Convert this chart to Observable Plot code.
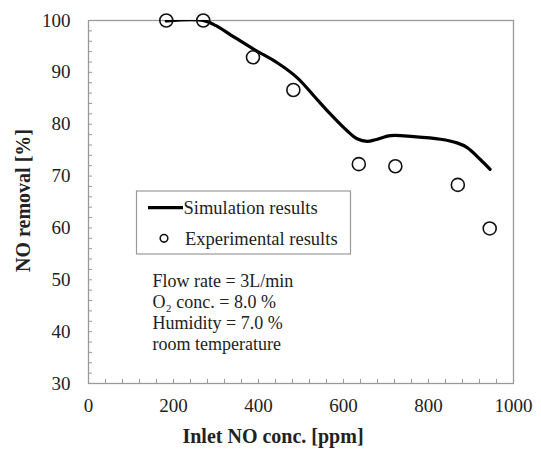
<!DOCTYPE html>
<html>
<head>
<meta charset="utf-8">
<script src="https://cdn.jsdelivr.net/npm/d3@7"></script>
<script src="https://cdn.jsdelivr.net/npm/@observablehq/plot@0.6"></script>
<style>
  html, body { margin: 0; padding: 0; background: #fff; }
  #chart svg { display: block; }
</style>
</head>
<body>
<div id="chart"></div>
<script>
// Experimental results (circles)
const expX = [183, 270, 387, 482, 636, 722, 869, 944];
const expY = [100, 100, 92.9, 86.6, 72.3, 71.9, 68.3, 59.9];

// Simulation results (line)
const simX = [183, 270, 300, 335, 390, 445, 492, 531, 570, 609, 632, 656, 675, 711, 765, 828, 867, 891, 922, 945];
const simY = [99.9, 100, 99.0, 97.2, 94.4, 91.8, 88.9, 85.4, 81.9, 78.7, 77.2, 76.7, 77.0, 77.8, 77.6, 77.1, 76.4, 75.5, 73.2, 71.3];

const xTickLabels = [0, 200, 400, 600, 800, 1000];
const yTickLabels = [30, 40, 50, 60, 70, 80, 90, 100];
const xMinorTicks = d3.range(0, 1001, 40);
const yMinorTicks = d3.range(30, 101, 2);

const seriesNames = ["Simulation results", "Experimental results"];
const xTitle = "Inlet NO conc. [ppm]";
const yTitle = "NO removal [%]";
const conditions = [
  "Flow rate = 3L/min",
  "O\u2082 conc. = 8.0 %",
  "Humidity = 7.0 %",
  "room temperature"
];

const sim = simX.map((x, i) => ({x, y: simY[i]}));
const exp = expX.map((x, i) => ({x, y: expY[i]}));

const FONT = "'Liberation Serif', 'Times New Roman', serif";
const GRAY = "#9a9a9a";
const TXT = "#222";

const chart = Plot.plot({
  width: 541,
  height: 449,
  marginLeft: 88,
  marginRight: 28,
  marginTop: 20,
  marginBottom: 66,
  style: {fontFamily: FONT, background: "#fff", color: TXT, overflow: "visible"},
  x: {domain: [0, 1000], label: null, axis: null},
  y: {domain: [30, 100], label: null, axis: null},
  marks: [
    Plot.frame({stroke: GRAY, strokeWidth: 1.3}),
    // inward minor ticks
    Plot.axisX({ticks: xMinorTicks, tickSize: 4, dy: -4, tickFormat: () => "", label: null, stroke: GRAY, strokeWidth: 1}),
    Plot.axisY({ticks: yMinorTicks, tickSize: 4, dx: 4, tickFormat: () => "", label: null, stroke: GRAY, strokeWidth: 1}),
    // tick labels
    Plot.axisX({ticks: xTickLabels, tickSize: 0, tickPadding: 15, fontSize: 19, tickFormat: d3.format("d"), label: null, fill: TXT}),
    Plot.axisY({ticks: yTickLabels, tickSize: 0, tickPadding: 18, fontSize: 19, tickFormat: d3.format("d"), label: null, fill: TXT}),
    Plot.line(sim, {x: "x", y: "y", curve: "catmull-rom", stroke: "#000", strokeWidth: 3.2, clip: true}),
    Plot.dot(exp, {x: "x", y: "y", r: 6.5, stroke: "#111", strokeWidth: 1.6, fill: "none", symbol: "circle"})
  ]
});

document.getElementById("chart").appendChild(chart);

const svg = d3.select(chart);

// Axis titles
svg.append("text")
  .attr("transform", "translate(23,200.5) rotate(-90)")
  .attr("text-anchor", "middle")
  .attr("dominant-baseline", "central")
  .attr("font-family", FONT)
  .attr("font-weight", "bold")
  .attr("font-size", 20)
  .attr("fill", TXT)
  .text(yTitle);

svg.append("text")
  .attr("x", 273)
  .attr("y", 436)
  .attr("text-anchor", "middle")
  .attr("dominant-baseline", "central")
  .attr("font-family", FONT)
  .attr("font-weight", "bold")
  .attr("font-size", 20)
  .attr("fill", TXT)
  .text(xTitle);

// Legend
const lg = svg.append("g")
  .attr("font-family", FONT).attr("font-size", 18.5).attr("fill", TXT)
  .attr("text-anchor", "start");
lg.append("rect")
  .attr("x", 136.5).attr("y", 191).attr("width", 214).attr("height", 63)
  .attr("fill", "#fff").attr("stroke", GRAY).attr("stroke-width", 1.2);
lg.append("line")
  .attr("x1", 148).attr("x2", 183).attr("y1", 207.7).attr("y2", 207.7)
  .attr("stroke", "#000").attr("stroke-width", 3.2);
lg.append("text").attr("x", 183.5).attr("y", 213.5).attr("text-anchor", "start").text(seriesNames[0]);
lg.append("circle")
  .attr("cx", 164).attr("cy", 238.3).attr("r", 3.8)
  .attr("fill", "none").attr("stroke", "#111").attr("stroke-width", 1.6);
lg.append("text").attr("x", 185).attr("y", 244.5).attr("text-anchor", "start").text(seriesNames[1]);

// Condition annotations
const ann = svg.append("g")
  .attr("font-family", FONT).attr("font-size", 18).attr("fill", TXT)
  .attr("text-anchor", "start");
conditions.forEach((line, i) => {
  ann.append("text")
    .attr("x", 152.5)
    .attr("y", 286.5 + i * 21.3)
    .attr("text-anchor", "start")
    .text(line);
});
</script>
</body>
</html>
